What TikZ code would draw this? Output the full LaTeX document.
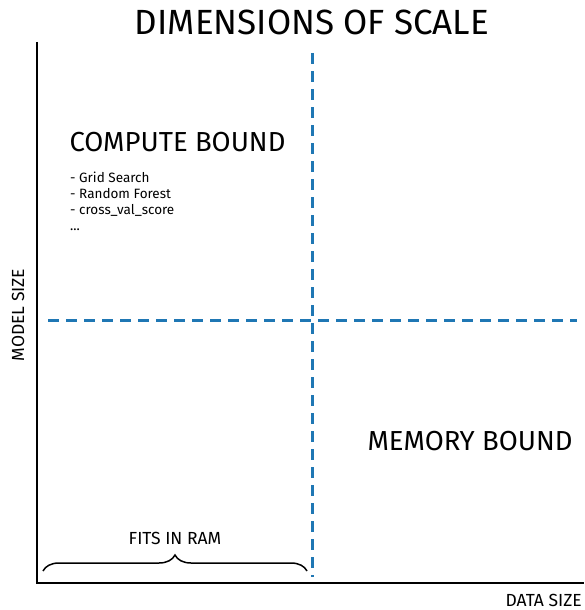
\documentclass[tikz,border=0pt]{standalone}
\usepackage{fontspec}
\setmainfont{Fira Sans}
\usetikzlibrary{decorations.pathreplacing}
\definecolor{mplblue}{HTML}{1F77B4}

\begin{document}
\begin{tikzpicture}[x=1pt,y=-1pt,
	split/.style={mplblue,line width=3pt,dash pattern=on 11pt off 7pt},
	big/.style={font=\fontsize{27.5}{30}\selectfont},
	small/.style={font=\fontsize{17.5}{20}\selectfont}]
	\useasboundingbox (0,0) rectangle (584,610);
	\node[font=\fontsize{35}{38}\selectfont] (title) at (312,22) {DIMENSIONS OF SCALE};
	% axes
	\coordinate (O) at (37,583);
	\coordinate (Ytop) at (37,42);
	\coordinate (Xend) at (584,583);
	\draw[line width=1.1pt] (Ytop) -- (O) -- (Xend);
	% quadrant lines
	\coordinate (Vtop) at (312,53);
	\coordinate (Vbot) at (312,577);
	\coordinate (Hl) at (48,320);
	\coordinate (Hr) at (577,320);
	\draw[split] (Vtop) -- (Vbot);
	\draw[split] (Hl) -- (Hr);
	% labels
	\node[big,anchor=west] (cb) at (66,142) {COMPUTE BOUND};
	\node[anchor=north west,align=left,font=\fontsize{13.5}{16}\selectfont,inner sep=0pt] (list) at (70,172)
		{- Grid Search\\- Random Forest\\- cross\_val\_score\\...};
	\node[big,anchor=west] (mb) at (364,441) {MEMORY BOUND};
	\node[small,rotate=90] (ylab) at (18,315) {MODEL SIZE};
	\node[small,anchor=east,inner sep=0pt] (xlab) at (582,600) {DATA SIZE};
	% brace
	\coordinate (Bl) at (43,571);
	\coordinate (Br) at (307,571);
	\draw[line width=1.5pt,decorate,decoration={brace,amplitude=16pt,aspect=0.5}] (Bl) -- (Br);
	\node[small] (ram) at (175,538) {FITS IN RAM};
\end{tikzpicture}
\end{document}
